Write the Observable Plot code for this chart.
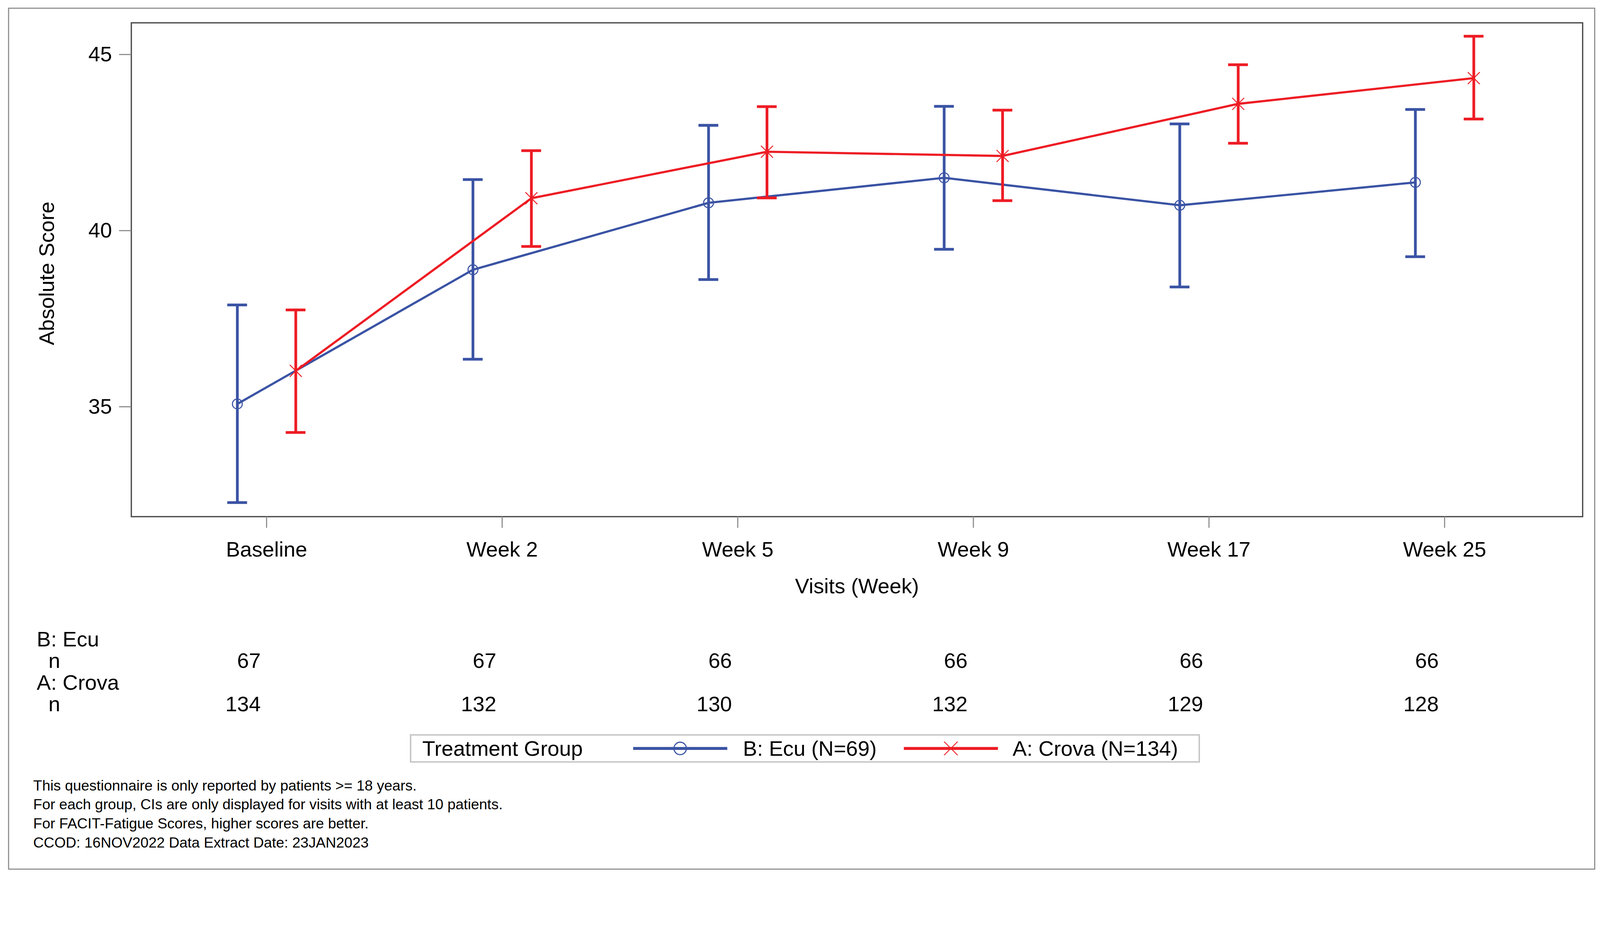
<!DOCTYPE html>
<html><head><meta charset="utf-8">
<script src="https://cdn.jsdelivr.net/npm/d3@7"></script>
<script src="https://cdn.jsdelivr.net/npm/@observablehq/plot@0.6"></script>
<style>
html,body{margin:0;padding:0;background:#fff;overflow:hidden;}
body{font-family:"Liberation Sans",Arial,sans-serif;color:#000;}
#wrap{position:relative;overflow:hidden;}
#page{position:absolute;left:0;top:0;width:4380px;height:2399px;overflow:hidden;background:#fff;transform-origin:0 0;}
#outer{position:absolute;left:22px;top:21px;width:4345px;height:2360px;border:3px solid #8a8a8a;box-sizing:border-box;}
#chart{position:absolute;left:0;top:0;}
#ntable{position:absolute;left:0;top:1700px;}
#legend{position:absolute;left:1122px;top:2010px;width:2163px;height:78px;border:4px solid #c6c6c6;box-sizing:border-box;background:#fff;}
#legend .t{position:absolute;top:0;height:70px;line-height:70px;font-size:58px;white-space:nowrap;}
#legend svg{position:absolute;top:0;}
#notes{position:absolute;left:91px;top:2124px;font-size:40px;line-height:52px;white-space:nowrap;}
</style></head><body>
<div id="wrap">
<div id="page">
  <div id="outer"></div>
  <div id="chart"></div>
  <div id="ntable"></div>
  <div id="legend"></div>
  <div id="notes"></div>
</div>
</div>
<script>
// ---- data ----
const visits = ["Baseline", "Week 2", "Week 5", "Week 9", "Week 17", "Week 25"];
const groups = ["B: Ecu", "A: Crova"];
const legendLabels = ["B: Ecu (N=69)", "A: Crova (N=134)"];
const legendTitle = "Treatment Group";
const ecuMean  = [35.08, 38.89, 40.79, 41.50, 40.72, 41.37];
const ecuLower = [32.28, 36.35, 38.61, 39.47, 38.40, 39.26];
const ecuUpper = [37.89, 41.45, 42.99, 43.53, 43.03, 43.44];
const crovaMean  = [36.02, 40.92, 42.24, 42.12, 43.60, 44.33];
const crovaLower = [34.27, 39.55, 40.93, 40.85, 42.48, 43.17];
const crovaUpper = [37.75, 42.27, 43.52, 43.42, 44.71, 45.52];
const ecuN   = [67, 67, 66, 66, 66, 66];
const crovaN = [134, 132, 130, 132, 129, 128];
const yTicks = [35, 40, 45];
const yLabel = "Absolute Score";
const xLabel = "Visits (Week)";
const footnotes = [
  "This questionnaire is only reported by patients >= 18 years.",
  "For each group, CIs are only displayed for visits with at least 10 patients.",
  "For FACIT-Fatigue Scores, higher scores are better.",
  "CCOD: 16NOV2022 Data Extract Date: 23JAN2023"
];

// ---- fit the 4380x2399 page to the actual viewport width ----
const PAGE_W = 4380, PAGE_H = 2399;
const vw = document.documentElement.clientWidth || window.innerWidth || PAGE_W;
const scale = vw / PAGE_W;
const wrap = document.getElementById("wrap");
wrap.style.width = vw + "px";
wrap.style.height = Math.round(PAGE_H * scale) + "px";
document.getElementById("page").style.transform = `scale(${scale})`;

// ---- styles ----
const BLUE = "#3a53a4";
const RED = "#ed1c24";
const FONT = "Liberation Sans, Arial, sans-serif";
const dodge = {"B: Ecu": -0.124, "A: Crova": 0.124};
const capHalf = 0.042;
const xDomain = [-0.574, 5.586];

function rowsFor(group, mean, lower, upper, n) {
  return visits.map((v, i) => ({visit: v, i, group, mean: mean[i], lower: lower[i], upper: upper[i], n: n[i]}));
}
const ecuRows = rowsFor("B: Ecu", ecuMean, ecuLower, ecuUpper, ecuN);
const crovaRows = rowsFor("A: Crova", crovaMean, crovaLower, crovaUpper, crovaN);

const X = d => d.i + dodge[d.group];

function seriesMarks(rows, color, symbol) {
  return [
    Plot.ruleX(rows, {x: X, y1: "lower", y2: "upper", stroke: color, strokeWidth: 7.5}),
    Plot.ruleY(rows, {y: "upper", x1: d => X(d) - capHalf, x2: d => X(d) + capHalf, stroke: color, strokeWidth: 7.5}),
    Plot.ruleY(rows, {y: "lower", x1: d => X(d) - capHalf, x2: d => X(d) + capHalf, stroke: color, strokeWidth: 7.5}),
    Plot.line(rows, {x: X, y: "mean", stroke: color, strokeWidth: 6}),
    Plot.dot(rows, {x: X, y: "mean", symbol, r: symbol === "circle" ? 13.5 : 15, stroke: color, strokeWidth: symbol === "circle" ? 3 : 2.5, fill: "none"})
  ];
}

const chart = Plot.plot({
  width: 4380,
  height: 1680,
  marginLeft: 359,
  marginRight: 48,
  marginTop: 62,
  marginBottom: 266,
  style: {fontFamily: FONT, background: "transparent", color: "#000"},
  x: {type: "linear", domain: xDomain},
  y: {domain: [31.88, 45.9]},
  marks: [
    Plot.frame({stroke: "#4a4a4a", strokeWidth: 3.5}),
    Plot.axisY({ticks: yTicks, tickSize: 33, tickPadding: 20, fontSize: 58, label: null, stroke: "#8a8a8a", strokeWidth: 3, fill: "#000"}),
    Plot.axisX({ticks: d3.range(visits.length), tickFormat: i => visits[i], tickSize: 31, tickPadding: 37, fontSize: 58, label: null, stroke: "#8a8a8a", strokeWidth: 3, fill: "#000"}),
    Plot.text([yLabel], {frameAnchor: "left", textAnchor: "middle", dx: -230, dy: 10, rotate: -90, fontSize: 58, fill: "#000", text: d => d}),
    Plot.text([xLabel], {frameAnchor: "bottom", textAnchor: "middle", dy: 210, fontSize: 58, fill: "#000", text: d => d}),
    ...seriesMarks(ecuRows, BLUE, "circle"),
    ...seriesMarks(crovaRows, RED, "times")
  ]
});
document.getElementById("chart").append(chart);

// ---- n table (same x scale) ----
const rowKeys = ["B: Ecu", "nB", "A: Crova", "nA"];
const nKey = {"B: Ecu": "nB", "A: Crova": "nA"};
const ntable = Plot.plot({
  width: 4380,
  height: 260,
  marginLeft: 359,
  marginRight: 48,
  marginTop: 50,
  marginBottom: 32,
  style: {fontFamily: FONT, background: "transparent", color: "#000"},
  x: {type: "linear", domain: xDomain, axis: null},
  y: {type: "point", domain: rowKeys, padding: 0, axis: null},
  marks: [
    Plot.text(groups, {frameAnchor: "left", y: d => d, text: d => d, textAnchor: "start", dx: -259, fontSize: 58, fill: "#000"}),
    Plot.text(groups, {frameAnchor: "left", y: d => nKey[d], text: () => "n", textAnchor: "start", dx: -227, fontSize: 58, fill: "#000"}),
    Plot.text([...ecuRows, ...crovaRows], {x: "i", y: d => nKey[d.group], text: "n", textAnchor: "end", dx: -16, fontSize: 58, fill: "#000"})
  ]
});
document.getElementById("ntable").append(ntable);

// ---- legend ----
const legend = document.getElementById("legend");
const L0 = 1126; // inner left edge (box left + border)
function addText(txt, x) {
  const s = document.createElement("span");
  s.className = "t"; s.textContent = txt; s.style.left = (x - L0) + "px";
  legend.append(s);
}
function addSwatch(x, color, symbol) {
  const w = 258;
  const svg = d3.create("svg").attr("width", w).attr("height", 70).style("left", (x - L0) + "px");
  svg.append("line").attr("x1", 0).attr("x2", w).attr("y1", 35).attr("y2", 35).attr("stroke", color).attr("stroke-width", 8);
  if (symbol === "circle") {
    svg.append("circle").attr("cx", w / 2).attr("cy", 35).attr("r", 17).attr("fill", "none").attr("stroke", color).attr("stroke-width", 3);
  } else {
    svg.append("path").attr("transform", `translate(${w / 2},35)`).attr("d", d3.symbol(d3.symbolTimes, 900)()).attr("fill", "none").attr("stroke", color).attr("stroke-width", 2.5);
  }
  legend.append(svg.node());
}
addText(legendTitle, 1156);
addSwatch(1733, BLUE, "circle");
addText(legendLabels[0], 2034);
addSwatch(2474, RED, "times");
addText(legendLabels[1], 2772);

// ---- footnotes ----
const notes = document.getElementById("notes");
footnotes.forEach(t => { const d = document.createElement("div"); d.textContent = t; notes.append(d); });
</script>
</body></html>
